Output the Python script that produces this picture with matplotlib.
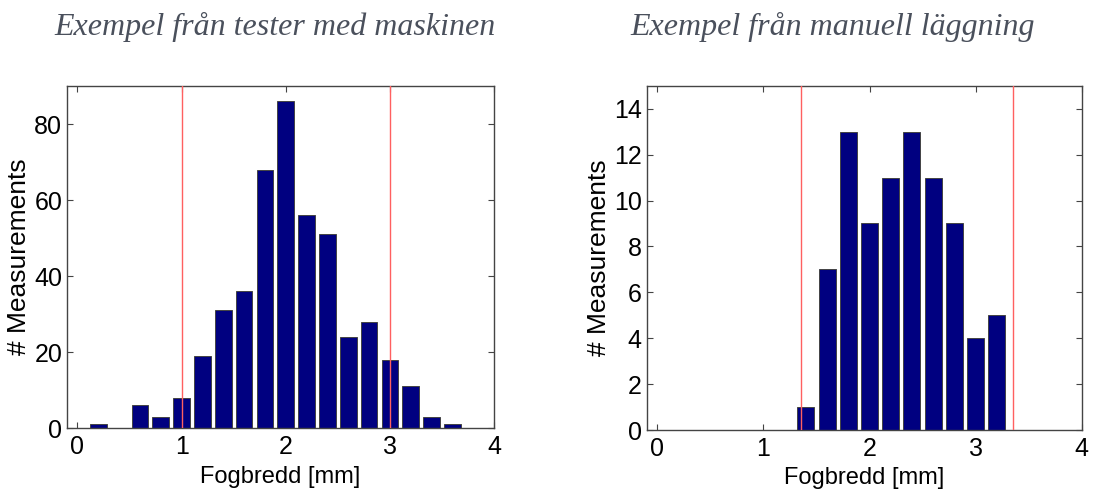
import matplotlib
matplotlib.use("Agg")
import matplotlib.pyplot as plt
from matplotlib import font_manager

# Data
left_centers = [0.2, 0.6, 0.8, 1.0, 1.2, 1.4, 1.6, 1.8, 2.0, 2.2, 2.4, 2.6, 2.8, 3.0, 3.2, 3.4, 3.6]
left_counts = [1, 6, 3, 8, 19, 31, 36, 68, 86, 56, 51, 24, 28, 18, 11, 3, 1]
left_limits = [1.0, 3.0]

right_centers = [1.4, 1.6, 1.8, 2.0, 2.2, 2.4, 2.6, 2.8, 3.0, 3.2]
right_counts = [1, 7, 13, 9, 11, 13, 11, 9, 4, 5]
right_limits = [1.35, 3.35]

titles = ["Exempel från tester med maskinen", "Exempel från manuell läggning"]
xlabel = "Fogbredd [mm]"
ylabel = "# Measurements"
xticks = [0, 1, 2, 3, 4]
left_yticks = [0, 20, 40, 60, 80]
right_yticks = [0, 2, 4, 6, 8, 10, 12, 14]

sans = "Liberation Sans"

fig = plt.figure(figsize=(10.93, 4.96), dpi=100)
ax1 = fig.add_axes([0.0613, 0.137, 0.3907, 0.6895])
ax2 = fig.add_axes([0.5917, 0.133, 0.398, 0.694])

bar_color = "#000080"
line_color = "#ff6060"

def style(ax, centers, counts, limits, ylim, yticks, ylab_x, xlab_y):
    ax.bar(centers, counts, width=0.16, color=bar_color, edgecolor="#444444", linewidth=0.7, zorder=2)
    for v in limits:
        ax.axvline(v, color=line_color, linewidth=1.0, zorder=3)
    ax.set_xlim(-0.1, 4.0)
    ax.set_ylim(*ylim)
    ax.set_xticks(xticks)
    ax.set_yticks(yticks)
    ax.tick_params(direction="in", top=True, right=True, length=4, width=0.8,
                   color="#444444", labelsize=18)
    ax.tick_params(axis="y", pad=3.5)
    ax.tick_params(axis="x", pad=5)
    for lab in ax.get_xticklabels() + ax.get_yticklabels():
        lab.set_fontfamily(sans)
    for s in ax.spines.values():
        s.set_color("#444444")
        s.set_linewidth(1.0)
    ax.set_xlabel(xlabel, fontsize=17, fontfamily=sans)
    ax.set_ylabel(ylabel, fontsize=19, fontfamily=sans)
    ax.yaxis.set_label_coords(ylab_x, 0.5)
    ax.xaxis.set_label_coords(0.5, xlab_y)

style(ax1, left_centers, left_counts, left_limits, (0, 90), left_yticks, -0.084, -0.112)
style(ax2, right_centers, right_counts, right_limits, (0, 15), right_yticks, -0.082, -0.107)

fig.text(0.252, 0.945, titles[0], ha="center", va="center", fontsize=23,
         fontstyle="italic", fontfamily="Liberation Serif", color="#4a505c")
fig.text(0.762, 0.945, titles[1], ha="center", va="center", fontsize=23,
         fontstyle="italic", fontfamily="Liberation Serif", color="#4a505c")

fig.savefig("out.png", dpi=100)
